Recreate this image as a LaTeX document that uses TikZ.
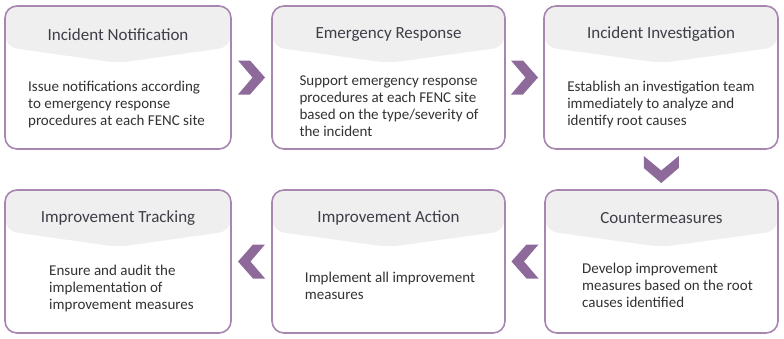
\documentclass[tikz,border=0pt]{standalone}
\usepackage{fontspec}
\setmainfont{Carlito}
\usetikzlibrary{calc}
\definecolor{boxc}{RGB}{168,134,178}
\definecolor{chevc}{RGB}{142,106,155}
\definecolor{headc}{RGB}{239,239,239}
\definecolor{titlec}{RGB}{62,62,72}
\definecolor{bodyc}{RGB}{50,50,50}
\tikzset{
  box/.style={draw=boxc, line width=1.6pt, rounded corners=12pt, minimum height=143pt, inner sep=0pt,
    path picture={\fill[headc] (path picture bounding box.north west) -- ++(0,41)
      -- ($(path picture bounding box.north)+(0,57)$)
      -- ($(path picture bounding box.north east)+(0,41)$)
      -- (path picture bounding box.north east) -- cycle;}},
  titletext/.style={font=\fontsize{17}{20}\selectfont, text=titlec, inner sep=0pt},
  bodytext/.style={font=\fontsize{15}{17}\selectfont, text=bodyc, align=left, inner sep=0pt},
  chev/.style={fill=chevc, draw=none}
}
\newcommand{\chevright}[1]{\fill[chev] ($(#1)+(-13.5,-17)$) -- ++(12,0) -- ($(#1)+(13.5,0)$) -- ($(#1)+(-1.5,17)$) -- ++(-12,0) -- ($(#1)+(1,0)$) -- cycle;}
\newcommand{\chevleft}[1]{\fill[chev] ($(#1)+(13.5,-17)$) -- ++(-12,0) -- ($(#1)+(-13.5,0)$) -- ($(#1)+(1.5,17)$) -- ++(12,0) -- ($(#1)+(-1,0)$) -- cycle;}
\newcommand{\chevdown}[1]{\fill[chev] ($(#1)+(-17.5,-13.5)$) -- ++(0,12) -- ($(#1)+(0,13.5)$) -- ($(#1)+(17.5,-1.5)$) -- ++(0,-12) -- ($(#1)+(0,1)$) -- cycle;}
\begin{document}
\begin{tikzpicture}[x=1pt,y=-1pt]
\useasboundingbox (0,0) rectangle (784,338);
% top row
\node[box, minimum width=226pt] (b1) at (118,77.5) {};
\node[box, minimum width=233pt] (b2) at (388.5,77.5) {};
\node[box, minimum width=234pt] (b3) at (661,77.5) {};
% bottom row
\node[box, minimum width=226pt] (b4) at (118,261.5) {};
\node[box, minimum width=233pt] (b5) at (388.5,261.5) {};
\node[box, minimum width=233pt] (b6) at (661.5,261.5) {};
% titles
\node[titletext] (t1) at ($(b1.north)+(0,29)$) {Incident Notification};
\node[titletext] (t2) at ($(b2.north)+(0,29)$) {Emergency Response};
\node[titletext] (t3) at ($(b3.north)+(0,29)$) {Incident Investigation};
\node[titletext] (t4) at ($(b4.north)+(0,29)$) {Improvement Tracking};
\node[titletext] (t5) at ($(b5.north)+(0,29)$) {Improvement Action};
\node[titletext] (t6) at ($(b6.north)+(0,29)$) {Countermeasures};
% bodies
\node[bodytext] (d1) at ($(b1.north)+(-1.5,99)$) {Issue notifications according\\to emergency response\\procedures at each FENC site};
\node[bodytext] (d2) at ($(b2.north)+(0.5,100.5)$) {Support emergency response\\procedures at each FENC site\\based on the type/severity of\\the incident};
\node[bodytext] (d3) at ($(b3.north)+(0,99)$) {Establish an investigation team\\immediately to analyze and\\identify root causes};
\node[bodytext] (d4) at ($(b4.north)+(3.5,99)$) {Ensure and audit the\\implementation of\\improvement measures};
\node[bodytext] (d5) at ($(b5.north)+(1.5,96.5)$) {Implement all improvement\\measures};
\node[bodytext] (d6) at ($(b6.north)+(6,96)$) {Develop improvement\\measures based on the root\\causes identified};
% chevrons
\coordinate (c12) at ($(b1.east)!0.5!(b2.west)$);
\coordinate (c23) at ($(b2.east)!0.5!(b3.west)$);
\coordinate (c36) at ($(b3.south)!0.5!(b6.north)$);
\coordinate (c65) at ($(b6.west)!0.5!(b5.east)$);
\coordinate (c54) at ($(b5.west)!0.5!(b4.east)$);
\chevright{c12}
\chevright{c23}
\chevdown{c36}
\chevleft{c65}
\chevleft{c54}
\end{tikzpicture}
\end{document}
